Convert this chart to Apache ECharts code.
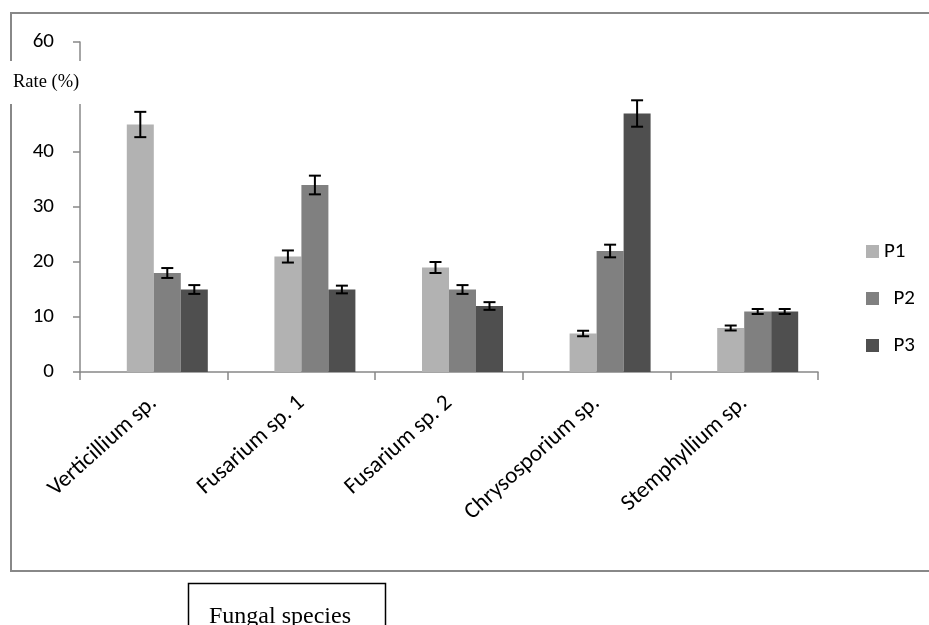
<!DOCTYPE html>
<html>
<head>
<meta charset="utf-8">
<script src="https://cdn.jsdelivr.net/npm/echarts@6/dist/echarts.min.js"></script>
<style>
  html, body { margin: 0; padding: 0; background: #fff; }
  #chart { width: 929px; height: 625px; }
</style>
</head>
<body>
<div id="chart"></div>
<script>
// 真菌种类
const species = ['Verticillium sp.', 'Fusarium sp. 1', 'Fusarium sp. 2', 'Chrysosporium sp.', 'Stemphyllium sp.'];
// 各组数值 (%)
const p1 = [45, 21, 19, 7, 8];
const p2 = [18, 34, 15, 22, 11];
const p3 = [15, 15, 12, 47, 11];
// 误差
const p1Err = [2.3, 1.1, 1.0, 0.5, 0.45];
const p2Err = [0.9, 1.7, 0.8, 1.15, 0.45];
const p3Err = [0.8, 0.7, 0.7, 2.4, 0.45];
const yTicks = [0, 10, 20, 30, 40, 50, 60];

const labelFont = 'Carlito, Lato, sans-serif';
const barW = 27;

// 误差线
function errorSeries(values, errs, offset) {
  return {
    type: 'custom',
    z: 5,
    data: values.map((v, i) => [i, v - errs[i], v + errs[i]]),
    renderItem: function (params, api) {
      const lo = api.coord([api.value(0), api.value(1)]);
      const hi = api.coord([api.value(0), api.value(2)]);
      const x = lo[0] + offset;
      const style = { stroke: '#000', lineWidth: 2 };
      return {
        type: 'group',
        children: [
          { type: 'line', shape: { x1: x, y1: lo[1], x2: x, y2: hi[1] }, style: style },
          { type: 'line', shape: { x1: x - 6, y1: lo[1], x2: x + 6, y2: lo[1] }, style: style },
          { type: 'line', shape: { x1: x - 6, y1: hi[1], x2: x + 6, y2: hi[1] }, style: style }
        ]
      };
    }
  };
}

const chart = echarts.init(document.getElementById('chart'));
const option = {
  animation: false,
  grid: { left: 80, right: 111, top: 42, bottom: 253 },
  legend: {
    data: ['P1', 'P2', 'P3'],
    orient: 'vertical',
    left: 861,
    top: 236,
    icon: 'rect',
    itemWidth: 13,
    itemHeight: 13,
    itemGap: 26,
    formatter: function (name) {
      return name === 'P1' ? name : '  ' + name;
    },
    textStyle: { fontSize: 21, fontFamily: labelFont, color: '#000' }
  },
  xAxis: {
    type: 'category',
    data: species,
    axisLine: { lineStyle: { color: '#888', width: 1.5 } },
    axisTick: { show: true, interval: 0, length: 8, lineStyle: { color: '#888', width: 1.5 } },
    axisLabel: {
      interval: 0,
      rotate: 42,
      margin: 28,
      fontSize: 23,
      fontFamily: labelFont,
      color: '#000'
    }
  },
  yAxis: {
    type: 'value',
    min: yTicks[0],
    max: yTicks[yTicks.length - 1],
    interval: 10,
    axisLine: { show: true, lineStyle: { color: '#888', width: 1.5 } },
    axisTick: { show: true, length: 7, lineStyle: { color: '#888', width: 1.5 } },
    splitLine: { show: false },
    axisLabel: { margin: 26, fontSize: 21, fontFamily: labelFont, color: '#000' }
  },
  series: [
    // 空位，使柱组偏右
    { name: 'gap', type: 'bar', barWidth: barW, barGap: 0, data: species.map(() => null), silent: true },
    { name: 'P1', type: 'bar', barWidth: barW, barGap: 0, data: p1, itemStyle: { color: '#b2b2b2' } },
    { name: 'P2', type: 'bar', barWidth: barW, barGap: 0, data: p2, itemStyle: { color: '#808080' } },
    { name: 'P3', type: 'bar', barWidth: barW, barGap: 0, data: p3, itemStyle: { color: '#4f4f4f' } },
    errorSeries(p1, p1Err, -barW / 2),
    errorSeries(p2, p2Err, barW / 2),
    errorSeries(p3, p3Err, barW * 1.5)
  ],
  graphic: [
    {
      type: 'rect', z: -10,
      shape: { x: 11, y: 13, width: 940, height: 558 },
      style: { fill: null, stroke: '#888', lineWidth: 2 }
    },
    {
      type: 'rect', z: 100,
      shape: { x: 0, y: 61, width: 84, height: 43 },
      style: { fill: '#fff' }
    },
    {
      type: 'text', z: 101,
      style: { x: 13, y: 82, text: 'Rate (%)', verticalAlign: 'middle', font: '18.5px "Liberation Serif", serif', fill: '#000' }
    },
    {
      type: 'rect', z: 100,
      shape: { x: 188.5, y: 583.5, width: 197, height: 60 },
      style: { fill: '#fff', stroke: '#000', lineWidth: 1.5 }
    },
    {
      type: 'text', z: 101,
      style: { x: 209, y: 617, text: 'Fungal species', verticalAlign: 'middle', font: '24px "Liberation Serif", serif', fill: '#000' }
    }
  ]
};
chart.setOption(option);
</script>
</body>
</html>
